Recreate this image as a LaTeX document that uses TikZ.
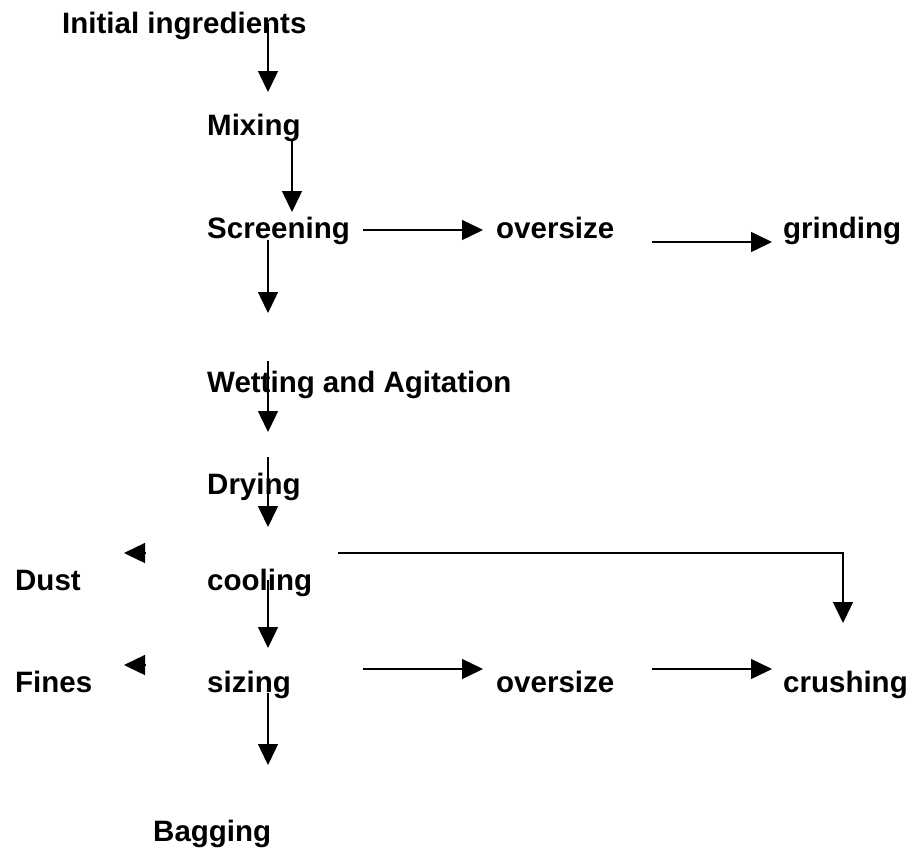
\documentclass[tikz,border=0pt]{standalone}
\usepackage{fontspec}
\setmainfont{Liberation Sans}
\usepackage{tikz}
\usetikzlibrary{arrows.meta}

\begin{document}
\begin{tikzpicture}[x=1pt,y=1pt,
    lbl/.style={anchor=base west, inner sep=0pt, font=\fontsize{29.5}{35}\selectfont\bfseries},
    flow/.style={line width=1.4pt, -{Triangle[length=21pt,width=20pt]}}]
    \path[use as bounding box] (0,0) rectangle (909,-849);
    % process steps
    \node[lbl] (init)  at (62,-33)  {Initial ingredients};
    \node[lbl] (mix)   at (207,-135) {Mixing};
    \node[lbl] (scr)   at (207,-238) {Screening};
    \node[lbl] (over1) at (496,-238) {oversize};
    \node[lbl] (grind) at (783,-238) {grinding};
    \node[lbl] (wet)   at (207,-392) {Wetting and Agitation};
    \node[lbl] (dry)   at (207,-494) {Drying};
    \node[lbl] (dust)  at (15,-590)  {Dust};
    \node[lbl] (cool)  at (207,-590) {cooling};
    \node[lbl] (fines) at (15,-692)  {Fines};
    \node[lbl] (size)  at (207,-692) {sizing};
    \node[lbl] (over2) at (496,-692) {oversize};
    \node[lbl] (crush) at (783,-692) {crushing};
    \node[lbl] (bag)   at (153,-841) {Bagging};
    % main line
    \draw[flow] ([xshift=206pt,yshift=10pt]init.base west) -- ([xshift=61pt,yshift=43pt]mix.base west);
    \draw[flow] ([xshift=85pt,yshift=-5pt]mix.base west) -- ([xshift=85pt,yshift=26pt]scr.base west);
    \draw[flow] ([xshift=61pt,yshift=-2pt]scr.base west) -- ([xshift=61pt,yshift=79pt]wet.base west);
    \draw[flow] ([xshift=61pt,yshift=31pt]wet.base west) -- ([xshift=61pt,yshift=62pt]dry.base west);
    \draw[flow] ([xshift=61pt,yshift=37pt]dry.base west) -- ([xshift=61pt,yshift=63pt]cool.base west);
    \draw[flow] ([xshift=61pt,yshift=10pt]cool.base west) -- ([xshift=61pt,yshift=44pt]size.base west);
    \draw[flow] ([xshift=61pt,yshift=-1pt]size.base west) -- ([xshift=115pt,yshift=76pt]bag.base west);
    % side streams
    \draw[flow] ([xshift=156pt,yshift=8pt]scr.base west) -- ([xshift=-13pt,yshift=8pt]over1.base west);
    \draw[flow] ([xshift=156pt,yshift=-4pt]over1.base west) -- ([xshift=-11pt,yshift=-4pt]grind.base west);
    \draw[flow] ([xshift=-62pt,yshift=37pt]cool.base west) -- ([xshift=109pt,yshift=37pt]dust.base west);
    \draw[flow] ([xshift=-62pt,yshift=27pt]size.base west) -- ([xshift=109pt,yshift=27pt]fines.base west);
    \draw[flow] ([xshift=131pt,yshift=37pt]cool.base west) -| ([xshift=60pt,yshift=69pt]crush.base west);
    \draw[flow] ([xshift=156pt,yshift=23pt]size.base west) -- ([xshift=-13pt,yshift=23pt]over2.base west);
    \draw[flow] ([xshift=156pt,yshift=23pt]over2.base west) -- ([xshift=-11pt,yshift=23pt]crush.base west);
\end{tikzpicture}
\end{document}
